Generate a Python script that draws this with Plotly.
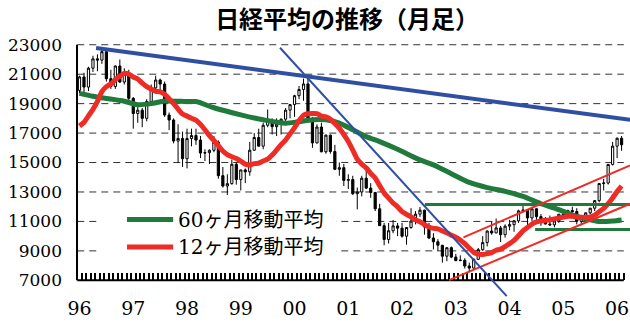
import plotly.graph_objects as go

# ---------------- data (monthly, Jan 1996 .. Feb 2006) ----------------
years = ['96', '97', '98', '99', '00', '01', '02', '03', '04', '05', '06']
y_ticks = [7000, 9000, 11000, 13000, 15000, 17000, 19000, 21000, 23000]
y_labels = ['7000', '9000', '11000', '13000', '15000', '17000', '19000', '21000', '23000']

open_96 = [19900, 20813, 20125, 21407, 22041, 21956, 22531, 20693, 20167, 21556, 20467, 21020]
high_96 = [20900, 21100, 21500, 22250, 22350, 22750, 22600, 21300, 21600, 22000, 21400, 21300]
low_96 = [19700, 19600, 19850, 21150, 21200, 21700, 20500, 20000, 20000, 20400, 20300, 19200]
close_96 = [20813, 20125, 21407, 22041, 21956, 22531, 20693, 20167, 21556, 20467, 21020, 19361]

open_97 = [19361, 18330, 18557, 18003, 19151, 20068, 20605, 20331, 18229, 17888, 16459, 16636]
high_97 = [19450, 18900, 18700, 19300, 20300, 20900, 20700, 20500, 18400, 18000, 17600, 17100]
low_97 = [17300, 17700, 17400, 17800, 19100, 19900, 19700, 18100, 17200, 16300, 15000, 14700]
close_97 = [18330, 18557, 18003, 19151, 20068, 20605, 20331, 18229, 17888, 16459, 16636, 15259]

open_98 = [15259, 16628, 16831, 16527, 15641, 15671, 15830, 16379, 14108, 13406, 13565, 14883]
high_98 = [17300, 17300, 17300, 16800, 15900, 15900, 16800, 16500, 14700, 14200, 15200, 15000]
low_98 = [14600, 16100, 16200, 15300, 15100, 14900, 15700, 13900, 13300, 12790, 13500, 13500]
close_98 = [16628, 16831, 16527, 15641, 15671, 15830, 16379, 14108, 13406, 13565, 14883, 13842]

open_99 = [13842, 14499, 14368, 15837, 16701, 16112, 17530, 17862, 17437, 17605, 17942, 18558]
high_99 = [14500, 14600, 16400, 17000, 17300, 17700, 18600, 18000, 18000, 18000, 18700, 18950]
low_99 = [13100, 13600, 14100, 15800, 16100, 15900, 17400, 16900, 16800, 16900, 17700, 18000]
close_99 = [14499, 14368, 15837, 16701, 16112, 17530, 17862, 17437, 17605, 17942, 18558, 18934]

open_00 = [18934, 19540, 19960, 20337, 17974, 16332, 17411, 15727, 16861, 15747, 14539, 14649]
high_00 = [19600, 20200, 20700, 20833, 18100, 17600, 17700, 16900, 16900, 16200, 15000, 14900]
low_00 = [18100, 19300, 19200, 17800, 16000, 16300, 15700, 15600, 15600, 14500, 14100, 13400]
close_00 = [19540, 19960, 20337, 17974, 16332, 17411, 15727, 16861, 15747, 14539, 14649, 13786]

open_01 = [13786, 13843, 12883, 12999, 13934, 13262, 12969, 11860, 10713, 9775, 10366, 10697]
high_01 = [14200, 14100, 13300, 14100, 14530, 13600, 13000, 12200, 10900, 10900, 11100, 10900]
low_01 = [13200, 12800, 11820, 12700, 13200, 12600, 11700, 10700, 9380, 9500, 10200, 10000]
close_01 = [13843, 12883, 12999, 13934, 13262, 12969, 11860, 10713, 9775, 10366, 10697, 10543]

open_02 = [10543, 9997, 10587, 11025, 11492, 11764, 10621, 9877, 9619, 9383, 8640, 9216]
high_02 = [10900, 10600, 11900, 11700, 11980, 11800, 10900, 10200, 9800, 9400, 9200, 9300]
low_02 = [9900, 9420, 10500, 10800, 11300, 10100, 9800, 9100, 9000, 8200, 8300, 8500]
close_02 = [9997, 10587, 11025, 11492, 11764, 10621, 9877, 9619, 9383, 8640, 9216, 8579]

open_03 = [8579, 8340, 8363, 7973, 7831, 8425, 9083, 9563, 10344, 10219, 10560, 10101]
high_03 = [8800, 8700, 8500, 8200, 8500, 9200, 10000, 10400, 11000, 11200, 10700, 10800]
low_03 = [8300, 8300, 7800, 7604, 7800, 8400, 9000, 9300, 10100, 10200, 9600, 9900]
close_03 = [8340, 8363, 7973, 7831, 8425, 9083, 9563, 10344, 10219, 10560, 10101, 10677]

open_04 = [10677, 10784, 11042, 11715, 11762, 11236, 11858, 11326, 11082, 10824, 10771, 11033]
high_04 = [11100, 11100, 11800, 12195, 11800, 12000, 11900, 11500, 11300, 11400, 11200, 11500]
low_04 = [10400, 10300, 10900, 11600, 10505, 11000, 11100, 10700, 10800, 10700, 10600, 10900]
close_04 = [10784, 11042, 11715, 11762, 11236, 11858, 11326, 11082, 10824, 10771, 11033, 11489]

open_05 = [11489, 11388, 11741, 11669, 11009, 11277, 11584, 11900, 12414, 13574, 13607, 14872]
high_05 = [11600, 11800, 12000, 11900, 11300, 11600, 11900, 12400, 13600, 13900, 14900, 16400]
low_05 = [11200, 11300, 11500, 10800, 10800, 11100, 11500, 11700, 12300, 13100, 13500, 14800]
close_05 = [11388, 11741, 11669, 11009, 11277, 11584, 11900, 12414, 13574, 13607, 14872, 16111]

open_06 = [16111, 16650]
high_06 = [16700, 16800]
low_06 = [15300, 15800]
close_06 = [16650, 16205]

# 12-month moving average (one value per month)
ma12 = [17478, 17734, 18173, 18610, 19153, 19821, 20155, 20326, 20630, 20864, 21054, 21011,
        20805, 20674, 20390, 20149, 19992, 19832, 19801, 19640, 19334, 19000, 18635, 18293,
        18151, 18007, 17884, 17592, 17226, 16828, 16498, 16155, 15781, 15540, 15394, 15276,
        15099, 14893, 14836, 14924, 14961, 15103, 15226, 15504, 15854, 16218, 16525, 16949,
        17369, 17835, 18210, 18316, 18334, 18325, 18147, 18099, 17944, 17660, 17334, 16905,
        16431, 15841, 15229, 14893, 14637, 14267, 13944, 13432, 12934, 12587, 12257, 11987,
        11666, 11475, 11311, 11107, 10982, 10787, 10621, 10530, 10497, 10354, 10230, 10067,
        9928, 9743, 9489, 9184, 8905, 8777, 8751, 8811, 8881, 9041, 9115, 9290,
        9493, 9717, 10029, 10356, 10590, 10822, 10969, 11030, 11081, 11098, 11176, 11244,
        11294, 11352, 11348, 11286, 11289, 11266, 11314, 11425, 11654, 11890, 12210, 12596,
        13034, 13406]

# 60-month moving average, read at selected months (month index from Jan 1996)
ma60_month = [0, 3, 6, 10, 13, 16, 19, 24, 26, 30, 36, 41, 46, 49, 52, 55, 58, 61, 64, 67,
              71, 76, 79, 83, 87, 91, 95, 99, 103, 107, 110, 113, 116, 119, 121]
ma60_value = [19700, 19500, 19350, 19160, 18930, 19000, 19180, 19140, 19140, 18720, 18240,
              17900, 17670, 17780, 17900, 17900, 17680, 17220, 16760, 16420, 15900, 15180,
              14840, 14240, 13650, 13300, 13040, 12700, 12200, 11800, 11450, 11180, 11000,
              11030, 11100]

opens = open_96 + open_97 + open_98 + open_99 + open_00 + open_01 + open_02 + open_03 + open_04 + open_05 + open_06
highs = high_96 + high_97 + high_98 + high_99 + high_00 + high_01 + high_02 + high_03 + high_04 + high_05 + high_06
lows = low_96 + low_97 + low_98 + low_99 + low_00 + low_01 + low_02 + low_03 + low_04 + low_05 + low_06
closes = close_96 + close_97 + close_98 + close_99 + close_00 + close_01 + close_02 + close_03 + close_04 + close_05 + close_06
months = list(range(len(closes)))
year_ticks = [12 * i for i in range(len(years))]

# trend lines (month, value)
long_blue = [(3.7, 22780), (122.9, 17900)]
steep_blue = [(44.75, 22796), (95.36, 5925)]
red_upper = [(85.7, 9918), (122.9, 14800)]
red_lower = [(82.5, 7014), (122.9, 12200)]
green_upper = [(77.1, 12150), (122.9, 12150)]
green_lower = [(101.7, 10460), (122.9, 10460)]

RED = '#EE2B25'
GREEN = '#1F7A3C'
BLUE = '#2F4FA3'
YFONT = 'DejaVu Serif'
XFONT = 'DejaVu Serif'
LEGEND_FONT = 'DejaVu Serif, Noto Sans CJK JP'

fig = go.Figure()
fig.add_trace(go.Candlestick(
    x=months, open=opens, high=highs, low=lows, close=closes, name='日経平均',
    increasing=dict(line=dict(color='black', width=1), fillcolor='white'),
    decreasing=dict(line=dict(color='black', width=1), fillcolor='black'),
    whiskerwidth=0, showlegend=False, hoverinfo='skip'))
fig.add_trace(go.Scatter(x=ma60_month, y=ma60_value, mode='lines', name='60ヶ月移動平均',
                         line=dict(color=GREEN, width=5, shape='spline', smoothing=0.8),
                         showlegend=False))
fig.add_trace(go.Scatter(x=months, y=ma12, mode='lines', name='12ヶ月移動平均',
                         line=dict(color=RED, width=5, shape='spline', smoothing=0.6),
                         showlegend=False))

shapes = []
# dashed gridlines
for v in y_ticks[1:]:
    shapes.append(dict(type='line', xref='x', yref='y', x0=-0.5, x1=121.5, y0=v, y1=v,
                       line=dict(color='#333333', width=1, dash='7px,5px'), layer='below'))
# legend background
shapes.append(dict(type='rect', xref='x', yref='y', x0=4.6, x1=57.3, y0=8240, y1=12450,
                   fillcolor='white', line=dict(width=0), layer='below'))
# axis lines
shapes.append(dict(type='line', xref='x', yref='y', x0=-0.5, x1=121.5, y0=7000, y1=7000,
                   line=dict(color='black', width=2)))
shapes.append(dict(type='line', xref='paper', yref='y', x0=0, x1=0, y0=7000, y1=23000,
                   line=dict(color='black', width=2)))


def seg(p, color, width):
    return dict(type='line', xref='x', yref='y', x0=p[0][0], y0=p[0][1], x1=p[1][0], y1=p[1][1],
                line=dict(color=color, width=width), layer='above')


shapes += [seg(green_upper, GREEN, 3), seg(green_lower, GREEN, 3),
           seg(red_upper, RED, 2), seg(red_lower, RED, 2),
           seg(long_blue, BLUE, 4), seg(steep_blue, BLUE, 2)]
# legend samples
shapes.append(dict(type='line', xref='x', yref='y', x0=10.6, x1=20.9, y0=11130, y1=11130,
                   line=dict(color=GREEN, width=5)))
shapes.append(dict(type='line', xref='x', yref='y', x0=10.6, x1=20.9, y0=9260, y1=9260,
                   line=dict(color=RED, width=5)))

annotations = [
    dict(text='60ヶ月移動平均', x=21.6, y=11130, xref='x', yref='y', xanchor='left',
         yanchor='middle', showarrow=False, font=dict(family=LEGEND_FONT, size=20, color='black')),
    dict(text='12ヶ月移動平均', x=21.6, y=9260, xref='x', yref='y', xanchor='left',
         yanchor='middle', showarrow=False, font=dict(family=LEGEND_FONT, size=20, color='black')),
]

fig.update_layout(
    width=630, height=323,
    margin=dict(l=77, r=0, t=44, b=25),
    paper_bgcolor='white', plot_bgcolor='white',
    title=dict(text='日経平均の推移（月足）', x=0.551, xanchor='center', y=0.938,
               yanchor='middle', font=dict(family='Noto Sans CJK JP', size=24, color='black',
                                           weight='bold')),
    xaxis=dict(range=[-0.56, 122.88], anchor='free', position=(7000 - 5800) / (23050 - 5800),
               showgrid=False, zeroline=False, showline=False,
               tickmode='array', tickvals=year_ticks, ticktext=years, ticks='',
               tickfont=dict(family=XFONT, size=19, color='black'),
               ticklabelstandoff=15,
               minor=dict(tickvals=[m - 0.5 for m in range(len(closes) + 1)], ticks='inside',
                          ticklen=7, tickwidth=1.5, tickcolor='black', showgrid=False),
               rangeslider=dict(visible=False)),
    yaxis=dict(range=[5800, 23050], showgrid=False, zeroline=False, showline=False,
               tickmode='array', tickvals=y_ticks, ticktext=y_labels, ticks='',
               tickfont=dict(family=YFONT, size=17, color='black'),
               ticklabelstandoff=14),
    shapes=shapes, annotations=annotations, showlegend=False,
)

fig.write_html('out.html')
